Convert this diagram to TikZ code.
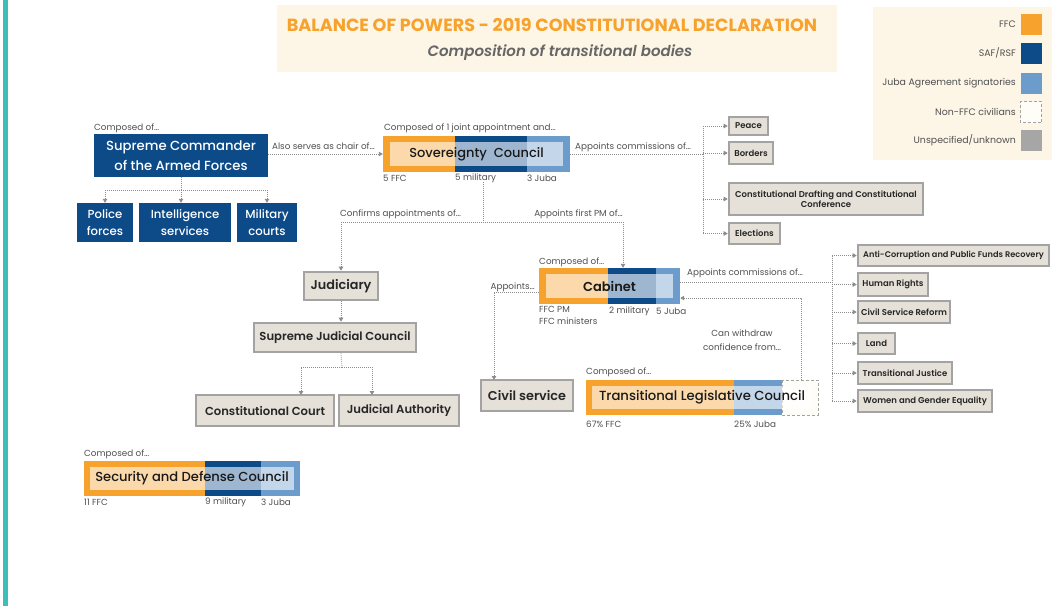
\documentclass[tikz,border=0pt]{standalone}
\usepackage{fontspec}
\setmainfont{Poppins}
\newfontfamily\semib{Poppins}[UprightFont=* SemiBold,ItalicFont=* SemiBold Italic]
\newfontfamily\medium{Poppins}[UprightFont=* Medium]
\usetikzlibrary{arrows.meta}
\definecolor{ffc}{HTML}{F6A22C}
\definecolor{saf}{HTML}{0D4A88}
\definecolor{juba}{HTML}{6C9CCB}
\definecolor{nonffc}{HTML}{FFFDF8}
\definecolor{unk}{HTML}{A6A6A6}
\definecolor{cream}{HTML}{FDF6E6}
\definecolor{boxfill}{HTML}{E5E1D9}
\definecolor{boxedge}{HTML}{A3A3A3}
\definecolor{edgeteal}{HTML}{3CBFB8}
\definecolor{linkgray}{HTML}{8C8C8C}
\definecolor{notegray}{HTML}{505050}

\tikzset{
  link/.style={linkgray,line width=0.9pt,dash pattern=on 0.9pt off 1.1pt},
  tip/.style={-{Triangle[width=4.5pt,length=4pt]}},
  note/.style={inner sep=0pt,text=notegray,font=\fontsize{8.8}{10}\selectfont},
  navybox/.style={fill=saf,text=white,inner sep=1pt,align=center},
  organ/.style={draw=boxedge,line width=2.6pt,fill=boxfill,inner sep=1pt,text=black!85,
    align=center,font=\semib\fontsize{11.6}{13}\selectfont},
  commission/.style={organ,font=\semib\fontsize{8.5}{10.5}\selectfont},
  veil/.style={fill=white,fill opacity=0.6,text opacity=1,inner sep=0pt,text=black!90},
  swatch/.style={minimum size=21pt,inner sep=0pt},
}

\begin{document}
\begin{tikzpicture}[x=1pt,y=-1pt]
  \useasboundingbox (0,0) rectangle (1062,606);
  \fill[white] (0,0) rectangle (1062,606);
  \fill[edgeteal] (3,0) rectangle (8,606);

  % title
  \fill[cream] (277,5) rectangle (837,72);
  \node[text=ffc,font=\bfseries\fontsize{17.6}{20}\selectfont] (title) at (552,25)
    {BALANCE OF POWERS - 2019 CONSTITUTIONAL DECLARATION};
  \node[text=black!60,font=\semib\itshape\fontsize{15}{17}\selectfont] (subtitle) at (560,53)
    {Composition of transitional bodies};

  % legend
  \fill[cream] (873,7) rectangle (1052,160);
  \foreach \y/\c/\t [count=\i] in {24/ffc/FFC, 53/saf/{SAF/RSF}, 83/juba/Juba Agreement signatories,
      112/nonffc/Non-FFC civilians, 140/unk/{Unspecified/unknown}} {
    \node[swatch,fill=\c] (key\i) at (1031,\y) {};
    \node[note,anchor=east,font=\fontsize{9.4}{11}\selectfont] (keytext\i) at (1016,\y) {\t};
  }
  \draw[boxedge,densely dashed,line width=0.6pt] (key4.south west) rectangle (key4.north east);

  % supreme commander and the forces under it
  \node[note,anchor=west] (sccomp) at (94,128) {Composed of…};
  \node[navybox,minimum width=174pt,minimum height=43pt,font=\medium\fontsize{13.2}{20}\selectfont] (sc) at (181,155.5)
    {Supreme Commander\\of the Armed Forces};
  \node[navybox,minimum width=56pt,minimum height=39pt,font=\medium\fontsize{11.7}{17}\selectfont] (police) at (105,222.5) {Police\\forces};
  \node[navybox,minimum width=92pt,minimum height=39pt,font=\medium\fontsize{11.7}{17}\selectfont] (intel) at (185,222.5) {Intelligence\\services};
  \node[navybox,minimum width=60pt,minimum height=39pt,font=\medium\fontsize{11.7}{17}\selectfont] (milcourts) at (267,222.5) {Military\\courts};
  \draw[link] (sc.south) -- ++(0,13) coordinate (scfork);
  \draw[link] (scfork -| police.north) -- (scfork -| milcourts.north);
  \draw[link,tip] (scfork -| police.north) -- (police.north);
  \draw[link,tip] (scfork) -- (scfork |- intel.north);
  \draw[link,tip] (scfork -| milcourts.north) -- (milcourts.north);

  % sovereignty council
  \fill[ffc] (383,136) rectangle (455,172);
  \fill[saf] (455,136) rectangle (527,172);
  \fill[juba] (527,136) rectangle (570,172);
  \node[minimum width=187pt,minimum height=36pt,inner sep=0pt] (sov) at (476.5,154) {};
  \node[veil,minimum width=173pt,minimum height=24pt,font=\medium\fontsize{13}{15}\selectfont] (sovname) at (sov) {Sovereignty\ \ Council};
  \node[note,anchor=west] (sovcomp) at (384,128) {Composed of 1 joint appointment and…};
  \node[note,anchor=west] (sovffc) at (383,178) {5 FFC};
  \node[note,anchor=west] (sovmil) at (455,178) {5 military};
  \node[note,anchor=west] (sovjuba) at (527,178) {3 Juba};
  \draw[link,tip] (sc.east |- sov.west) -- (sov.west)
    node[note,pos=0.03,anchor=south west,yshift=4pt] (chair) {Also serves as chair of…};

  % commissions of the sovereignty council
  \node[commission,minimum width=39pt,minimum height=18pt] (peace) at (748.5,126) {Peace};
  \node[commission,minimum width=44pt,minimum height=22pt] (borders) at (751,153) {Borders};
  \node[commission,minimum width=194pt,minimum height=32pt] (drafting) at (826,199)
    {Constitutional Drafting and Constitutional\\Conference};
  \node[commission,minimum width=51pt,minimum height=21pt] (elections) at (754.5,233.5) {Elections};
  \coordinate (sbus) at (703,154);
  \draw[link] (sov.east) -- (sbus);
  \node[note,anchor=west] (sovapp) at (575,147) {Appoints commissions of…};
  \draw[link] (sbus |- peace.west) -- (sbus |- elections.west);
  \foreach \b in {peace,borders,drafting,elections}
    \draw[link,tip] (sbus |- \b.west) -- (\b.west);

  % appointments made by the sovereignty council
  \coordinate (sdown) at (483,222);
  \coordinate (pmx) at (623,222);
  \node[organ,minimum width=74pt,minimum height=28pt,font=\semib\fontsize{12.8}{14}\selectfont] (jud) at (341,286) {Judiciary};
  \draw[link] ([yshift=-10pt]sov.south -| sdown) -- (sdown);
  \draw[link] (sdown -| jud.north) -- (pmx);
  \node[note,anchor=west] (confirms) at (340,214) {Confirms appointments of…};
  \node[note,anchor=east] (firstpm) at (623,214) {Appoints first PM of…};

  % judiciary
  \node[organ,minimum width=162pt,minimum height=29pt] (sjc) at (335,337.5) {Supreme Judicial Council};
  \node[organ,minimum width=138pt,minimum height=31pt] (ccourt) at (265,410.5) {Constitutional Court};
  \node[organ,minimum width=120pt,minimum height=31pt] (jauth) at (399,410.5) {Judicial Authority};
  \draw[link,tip] (sdown -| jud.north) -- (jud.north);
  \draw[link,tip] (jud.south) -- (jud.south |- sjc.north);
  \coordinate (jfork) at (342,367);
  \coordinate (ccin) at (301,395);
  \coordinate (jain) at (372,395);
  \draw[link] (jud.south |- sjc.south) -- (jfork);
  \draw[link,tip] (jfork) -| (ccin);
  \draw[link,tip] (jfork) -| (jain);

  % cabinet
  \fill[ffc] (539,268) rectangle (608,304);
  \fill[saf] (608,268) rectangle (656,304);
  \fill[juba] (656,268) rectangle (680,304);
  \node[minimum width=141pt,minimum height=36pt,inner sep=0pt] (cab) at (609.5,286) {};
  \node[veil,minimum width=127pt,minimum height=24pt,font=\semib\fontsize{13}{15}\selectfont] (cabname) at (cab) {Cabinet};
  \node[note,anchor=west] (cabcomp) at (539,262) {Composed of…};
  \node[note,anchor=north west,align=left,font=\fontsize{8.8}{12}\selectfont] (cabffc) at (539,306) {FFC PM\\FFC ministers};
  \node[note,anchor=west] (cabmil) at (609,311) {2 military};
  \node[note,anchor=west] (cabjuba) at (656,311) {5 Juba};
  \draw[link,tip] (pmx) -- (pmx |- cab.north);

  % commissions of the cabinet
  \node[commission,minimum width=191pt,minimum height=21pt,font=\semib\fontsize{8.2}{10}\selectfont] (anticorr) at (953.5,255.5) {Anti-Corruption and Public Funds Recovery};
  \node[commission,minimum width=70pt,minimum height=23pt] (rights) at (893,284.5) {Human Rights};
  \node[commission,minimum width=92pt,minimum height=22pt] (reform) at (904,312) {Civil Service Reform};
  \node[commission,minimum width=37pt,minimum height=21pt] (land) at (876.5,343.5) {Land};
  \node[commission,minimum width=94pt,minimum height=22pt] (justice) at (905,373) {Transitional Justice};
  \node[commission,minimum width=134pt,minimum height=22pt] (women) at (925,401) {Women and Gender Equality};
  \coordinate (cbus) at (832,282);
  \draw[link] ([yshift=4pt]cab.east) -- (cbus);
  \node[note,anchor=west] (cabapp) at (687,273) {Appoints commissions of…};
  \draw[link] (cbus |- anticorr.west) -- (cbus |- women.west);
  \foreach \b in {anticorr,rights,reform,land,justice,women}
    \draw[link,tip] (cbus |- \b.west) -- (\b.west);

  % civil service
  \node[organ,minimum width=92pt,minimum height=31pt,font=\semib\fontsize{12.8}{15}\selectfont] (civ) at (527,395.5) {Civil service};
  \coordinate (civin) at (494,380);
  \draw[link,tip] ([yshift=-6pt]cab.west) -| (civin);
  \node[note,anchor=east] (cabappoints) at (535,287) {Appoints…};

  % transitional legislative council
  \fill[ffc] (586,380) rectangle (734,415);
  \fill[juba] (734,380) rectangle (782,415);
  \fill[nonffc] (782,380) rectangle (818,415);
  \draw[boxedge,densely dashed,line width=0.6pt] (782,380) rectangle (818,415);
  \node[minimum width=232pt,minimum height=35pt,inner sep=0pt] (tlc) at (702,397.5) {};
  \node[veil,minimum width=220pt,minimum height=23pt,font=\medium\fontsize{13.2}{15}\selectfont] (tlcname) at (702,397.5)
    {Transitional Legislative Council};
  \node[note,anchor=west] (tlccomp) at (586,372) {Composed of…};
  \node[note,anchor=west] (tlcffc) at (586,424) {67\% FFC};
  \node[note,anchor=west] (tlcjuba) at (734,424) {25\% Juba};
  \coordinate (tlcout) at (801,380);
  \draw[link,tip] (tlcout) |- ([yshift=-12pt]cab.east);
  \node[note,align=center,font=\fontsize{8.8}{14}\selectfont] (withdraw) at (742,340) {Can withdraw\\confidence from…};

  % security and defense council
  \fill[ffc] (84,461) rectangle (205,496);
  \fill[saf] (205,461) rectangle (261,496);
  \fill[juba] (261,461) rectangle (300,496);
  \node[veil,minimum width=204pt,minimum height=23pt,font=\medium\fontsize{13.1}{15}\selectfont] (sdc) at (192,478.5)
    {Security and Defense Council};
  \node[note,anchor=west] (sdccomp) at (84,454) {Composed of…};
  \node[note,anchor=west] (sdcffc) at (84,502) {11 FFC};
  \node[note,anchor=west] (sdcmil) at (205,502) {9 military};
  \node[note,anchor=west] (sdcjuba) at (261,502) {3 Juba};
\end{tikzpicture}
\end{document}
